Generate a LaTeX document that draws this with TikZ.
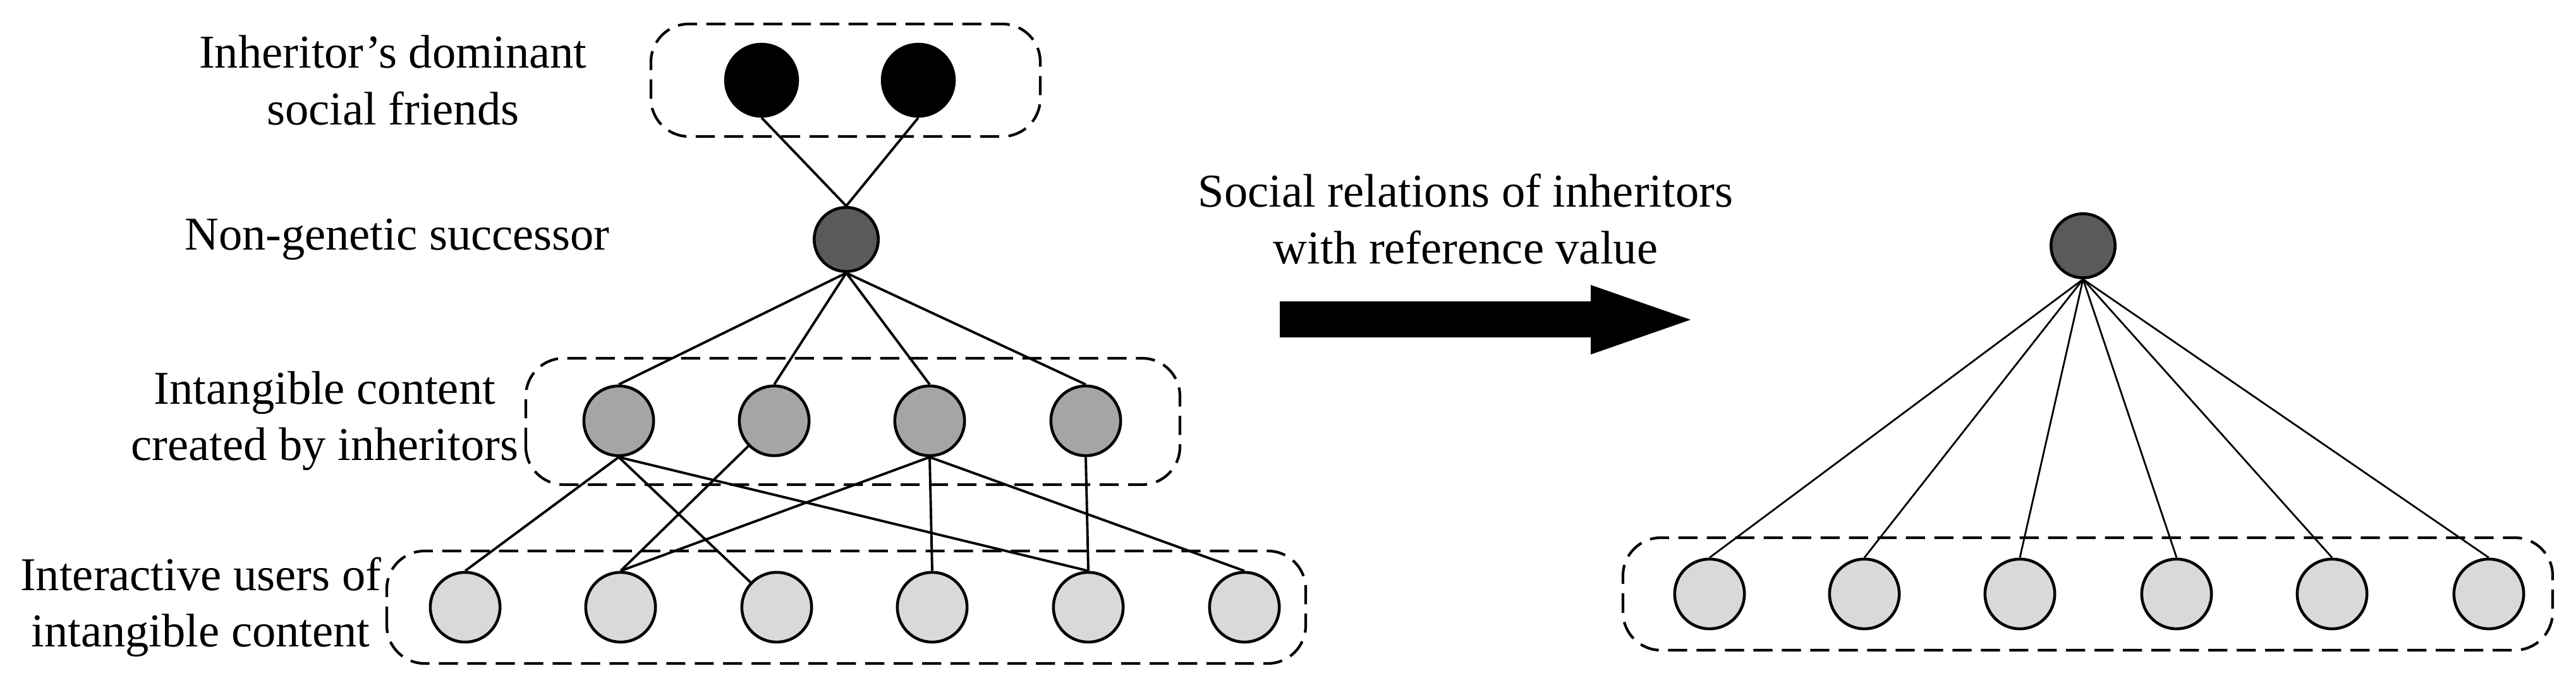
\documentclass[tikz,border=0pt]{standalone}
\usepackage{fontspec}
\setmainfont{Liberation Serif}
\usetikzlibrary{positioning}
\definecolor{succgray}{RGB}{90,90,90}
\definecolor{contentgray}{RGB}{165,165,165}
\definecolor{usergray}{RGB}{217,217,217}
\tikzset{
  person/.style={circle, draw=black, line width=0.65pt, inner sep=0pt, minimum size=0.552cm},
  friendnode/.style={person, fill=black, minimum size=0.57cm},
  succnode/.style={person, fill=succgray, minimum size=0.507cm},
  contentnode/.style={person, fill=contentgray},
  usernode/.style={person, fill=usergray},
  groupbox/.style={draw=black, line width=0.6pt, dash pattern=on 4.3pt off 2.1pt, rounded corners=0.3cm},
  edge/.style={line width=0.55pt},
  thinedge/.style={line width=0.4pt},
  tagtext/.style={font=\fontsize{10.6}{12.7}\selectfont, align=center, inner sep=0pt}
}

\begin{document}
\begin{tikzpicture}
  \useasboundingbox (0,0) rectangle (20.38,5.46);

  % left side: successor and its relations
  \node [friendnode] (f1) at (6.025,4.825) {};
  \node [friendnode] (f2) at (7.265,4.825) {};
  \node [succnode] (s) at (6.695,3.565) {};
  \foreach \x [count=\i] in {4.895,6.125,7.355,8.59}
    \node [contentnode] (c\i) at (\x,2.13) {};
  \foreach \x [count=\i] in {3.68,4.91,6.145,7.375,8.61,9.845}
    \node [usernode] (u\i) at (\x,0.655) {};

  \draw [groupbox] (5.15,4.38) rectangle (8.23,5.27);
  \draw [groupbox] (4.16,1.625) rectangle (9.335,2.625);
  \draw [groupbox] (3.06,0.21) rectangle (10.33,1.10);

  \node [tagtext, left=1.08cm of f1] (friendtag) {Inheritor’s dominant\\social friends};
  \node [tagtext, left=1.6cm of s] (succtag) {Non-genetic successor};
  \node [tagtext, left=0.5cm of c1] (contenttag) {Intangible content\\created by inheritors};
  \node [tagtext, left=0.37cm of u1] (usertag) {Interactive users of\\intangible content};

  \foreach \f in {f1,f2}
    \draw [edge] (\f.south) -- (s.north);
  \foreach \c in {c1,c2,c3,c4}
    \draw [edge] (s.south) -- (\c.north);
  \foreach \a/\b in {c1/u1,c1/u5,c3/u2,c3/u4,c3/u6,c4/u5}
    \draw [edge] (\a.south) -- (\b.north);
  \draw [edge] (c1.south) -- (u3);
  \draw [edge] (c2) -- (u2.north);

  % transition arrow
  \fill [black] (10.125,2.79) -- (12.585,2.79) -- (12.585,2.655) -- (13.375,2.93)
    -- (12.585,3.205) -- (12.585,3.075) -- (10.125,3.075) -- cycle;
  \node [tagtext, anchor=north] (reltag) at (11.595,4.09) {Social relations of inheritors\\with reference value};

  % right side: reduced relations
  \node [succnode] (r) at (16.48,3.515) {};
  \foreach \x [count=\i] in {13.525,14.75,15.98,17.22,18.45,19.69}
    \node [usernode] (v\i) at (\x,0.76) {};
  \draw [groupbox] (12.84,0.315) rectangle (20.195,1.205);
  \foreach \i in {1,...,6}
    \draw [thinedge] (r.south) -- (v\i.north);
\end{tikzpicture}
\end{document}
